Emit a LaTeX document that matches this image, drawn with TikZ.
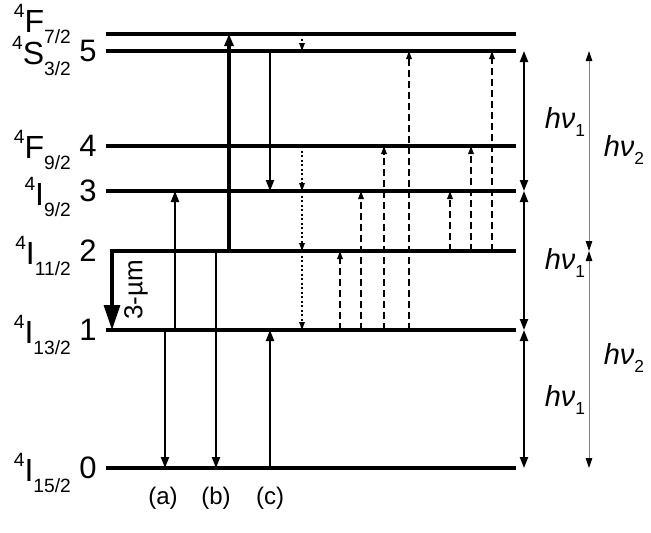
\documentclass[tikz,border=0pt]{standalone}
\usepackage{fontspec}
\setmainfont{Liberation Sans}
\usetikzlibrary{arrows.meta,positioning}
\newcommand{\trm}[3]{\raisebox{0.45em}{\scalebox{0.6}{#1}}#2\raisebox{-0.35em}{\scalebox{0.6}{#3}}}
\begin{document}
\begin{tikzpicture}[x=1pt,y=-1pt,
    % styles
    level/.style={line width=3.8pt},
    trans/.style={line width=2pt,-{Triangle[length=11pt,width=8pt]}},
    thicktrans/.style={line width=3.4pt,-{Triangle[length=12pt,width=9pt]}},
    dashtrans/.style={line width=1.6pt,dash pattern=on 7pt off 4pt,-{Triangle[length=8pt,width=5.5pt]}},
    dottrans/.style={line width=1.4pt,dash pattern=on 2pt off 2.5pt,-{Triangle[length=8pt,width=5.5pt]}},
    gap/.style={line width=2pt,{Triangle[length=11pt,width=8pt]}-{Triangle[length=11pt,width=8pt]}},
    biggap/.style={line width=0.8pt,gray,{Triangle[length=10pt,width=6.5pt,color=black]}-{Triangle[length=10pt,width=6.5pt,color=black]}},
    term/.style={font=\fontsize{32}{32}\selectfont,anchor=east,inner sep=0pt},
    num/.style={font=\fontsize{31}{31}\selectfont},
    hnu/.style={font=\fontsize{29}{29}\selectfont\itshape},
    case/.style={font=\fontsize{24}{24}\selectfont},
    ]
    \useasboundingbox (0,0) rectangle (651,533);
    % levels
    \def\yF{34}\def\yv{51}\def\yiv{146}\def\yiii{191}\def\yii{251}\def\yi{330}\def\yo{468}
    \foreach \y in {\yF,\yv,\yiv,\yiii,\yi,\yo} \draw[level] (106,\y) -- (516,\y);
    \draw[level] (110,\yii) -- (516,\yii);
    % labels
    \node[num] (n5) at (88,\yv) {5};
    \node[num] (n4) at (88,\yiv) {4};
    \node[num] (n3) at (88,\yiii) {3};
    \node[num] (n2) at (88,\yii) {2};
    \node[num] (n1) at (88,\yi) {1};
    \node[num] (n0) at (88,\yo) {0};
    \node[term] (tF) at (71,24) {\trm{4}{F}{7/2}};
    \node[term] (t5) at (71,56) {\trm{4}{S}{3/2}};
    \node[term] (t4) at (71,150) {\trm{4}{F}{9/2}};
    \node[term] (t3) at (71,197) {\trm{4}{I}{9/2}};
    \node[term] (t2) at (71,256) {\trm{4}{I}{11/2}};
    \node[term] (t1) at (71,335) {\trm{4}{I}{13/2}};
    \node[term] (t0) at (71,473) {\trm{4}{I}{15/2}};
    % solid transitions
    \draw[line width=3.2pt,-{Triangle[length=25pt,width=16pt]}] (112,\yii) -- (112,\yi);
    \node[rotate=90,font=\fontsize{26}{26}\selectfont] (um) at (136,290) {3-µm};
    \draw[trans] (175,\yi) -- (175,\yiii);
    \draw[trans] (165,\yi) -- (165,\yo);
    \draw[thicktrans] (229,\yii) -- (229,\yF);
    \draw[trans] (216,\yii) -- (216,\yo);
    \draw[trans] (270,\yv) -- (270,\yiii);
    \draw[trans] (270,\yo) -- (270,\yi);
    \node[case] (la) at (163,498) {(a)};
    \node[case] (lb) at (216,498) {(b)};
    \node[case] (lc) at (270,498) {(c)};
    % dotted relaxations
    \draw[dottrans] (302,\yF) -- (302,\yv);
    \draw[dottrans] (302,\yiv) -- (302,\yiii);
    \draw[dottrans] (302,\yiii) -- (302,\yii);
    \draw[dottrans] (302,\yii) -- (302,\yi);
    % dashed absorptions
    \draw[dashtrans] (340,\yi) -- (340,\yii);
    \draw[dashtrans] (361,\yi) -- (361,\yiii);
    \draw[dashtrans] (384,\yi) -- (384,\yiv);
    \draw[dashtrans] (409,\yi) -- (409,\yv);
    \draw[dashtrans] (450,\yii) -- (450,\yiii);
    \draw[dashtrans] (471,\yii) -- (471,\yiv);
    \draw[dashtrans] (492,\yii) -- (492,\yv);
    % energy gaps
    \draw[gap] (524,\yv) -- (524,\yiii);
    \draw[gap] (524,\yiii) -- (524,\yi);
    \draw[gap] (524,\yi) -- (524,\yo);
    \node[hnu] (h1a) at (565,122) {hν\raisebox{-0.3em}{\scalebox{0.6}{\upshape 1}}};
    \node[hnu] (h1b) at (565,263) {hν\raisebox{-0.3em}{\scalebox{0.6}{\upshape 1}}};
    \node[hnu] (h1c) at (565,400) {hν\raisebox{-0.3em}{\scalebox{0.6}{\upshape 1}}};
    \draw[biggap] (589,\yv) -- (589,\yii);
    \draw[biggap] (589,\yii) -- (589,\yo);
    \node[hnu] (h2a) at (624,150) {hν\raisebox{-0.3em}{\scalebox{0.6}{\upshape 2}}};
    \node[hnu] (h2b) at (624,358) {hν\raisebox{-0.3em}{\scalebox{0.6}{\upshape 2}}};
\end{tikzpicture}
\end{document}
